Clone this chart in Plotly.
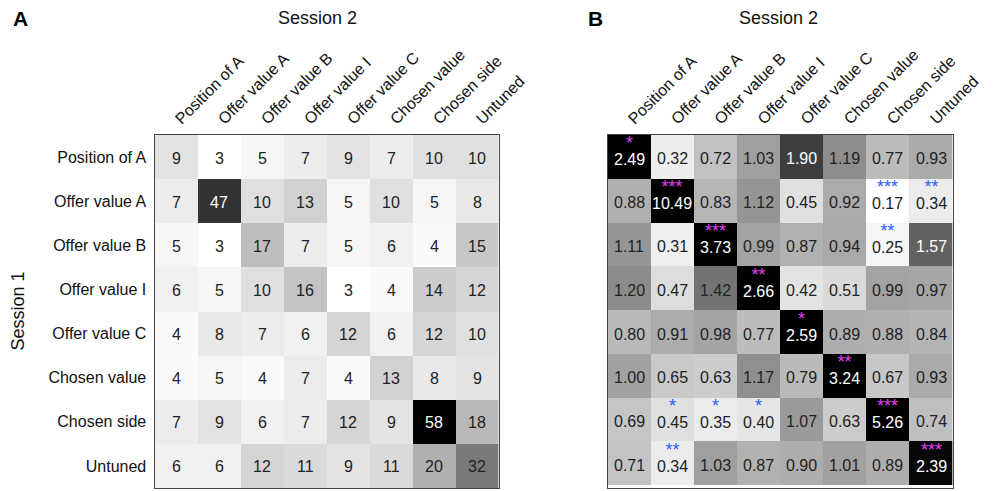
import plotly.graph_objects as go

W, H = 1001, 491


def px(x):
    return x / W


def py(y):
    return 1 - y / H


categories = ["Position of A", "Offer value A", "Offer value B", "Offer value I",
              "Offer value C", "Chosen value", "Chosen side", "Untuned"]

counts = [
    [9, 3, 5, 7, 9, 7, 10, 10],
    [7, 47, 10, 13, 5, 10, 5, 8],
    [5, 3, 17, 7, 5, 6, 4, 15],
    [6, 5, 10, 16, 3, 4, 14, 12],
    [4, 8, 7, 6, 12, 6, 12, 10],
    [4, 5, 4, 7, 4, 13, 8, 9],
    [7, 9, 6, 7, 12, 9, 58, 18],
    [6, 6, 12, 11, 9, 11, 20, 32],
]

ratios = [
    [2.49, 0.32, 0.72, 1.03, 1.90, 1.19, 0.77, 0.93],
    [0.88, 10.49, 0.83, 1.12, 0.45, 0.92, 0.17, 0.34],
    [1.11, 0.31, 3.73, 0.99, 0.87, 0.94, 0.25, 1.57],
    [1.20, 0.47, 1.42, 2.66, 0.42, 0.51, 0.99, 0.97],
    [0.80, 0.91, 0.98, 0.77, 2.59, 0.89, 0.88, 0.84],
    [1.00, 0.65, 0.63, 1.17, 0.79, 3.24, 0.67, 0.93],
    [0.69, 0.45, 0.35, 0.40, 1.07, 0.63, 5.26, 0.74],
    [0.71, 0.34, 1.03, 0.87, 0.90, 1.01, 0.89, 2.39],
]

# significance stars: (row, col, stars, kind) kind: 'over' (magenta) / 'under' (blue)
stars = [
    (0, 0, "*", "over"),
    (1, 1, "***", "over"), (1, 6, "***", "under"), (1, 7, "**", "under"),
    (2, 2, "***", "over"), (2, 6, "**", "under"),
    (3, 3, "**", "over"),
    (4, 4, "*", "over"),
    (5, 5, "**", "over"),
    (6, 1, "*", "under"), (6, 2, "*", "under"), (6, 3, "*", "under"), (6, 6, "***", "over"),
    (7, 1, "**", "under"), (7, 7, "***", "over"),
]

A_range = (3, 58)
B_range = (0.17, 2.45)

FONT = "Liberation Sans, Arial, sans-serif"
gray_scale = [[0, "#ffffff"], [1, "#000000"]]
STAR_COLORS = {"over": "#e040f0", "under": "#2a62ff"}

fig = go.Figure()
fig.add_trace(go.Heatmap(z=counts, x=categories, y=categories, colorscale=gray_scale,
                         zmin=A_range[0], zmax=A_range[1], showscale=False,
                         xaxis="x", yaxis="y", hoverinfo="z"))
fig.add_trace(go.Heatmap(z=ratios, x=categories, y=categories, colorscale=gray_scale,
                         zmin=B_range[0], zmax=B_range[1], showscale=False,
                         xaxis="x2", yaxis="y2", hoverinfo="z"))

annotations = []


def txt_color(v, rng):
    d = (v - rng[0]) / (rng[1] - rng[0])
    return "#ffffff" if d > 0.57 else "#222222"


star_map = {(i, j): (s, k) for (i, j, s, k) in stars}

for i, r in enumerate(categories):
    for j, c in enumerate(categories):
        v = counts[i][j]
        annotations.append(dict(x=c, y=r, xref="x", yref="y", text=str(v), showarrow=False,
                                yshift=-1, borderpad=0,
                                font=dict(size=16, color=txt_color(v, A_range), family=FONT)))
        v2 = ratios[i][j]
        tc = txt_color(v2, B_range)
        if (i, j) in star_map:
            s, k = star_map[(i, j)]
            text = (f"<span style='font-size:18px;color:{STAR_COLORS[k]}'>{s}</span><br>"
                    f"<span style='font-size:16px;color:{tc}'>{v2:.2f}</span>")
            annotations.append(dict(x=c, y=r, xref="x2", yref="y2", text=text, showarrow=False,
                                    yshift=6, borderpad=0, align="center",
                                    font=dict(size=12, color=tc, family=FONT)))
        else:
            annotations.append(dict(x=c, y=r, xref="x2", yref="y2", text=f"{v2:.2f}",
                                    showarrow=False, yshift=-2, borderpad=0,
                                    font=dict(size=16, color=tc, family=FONT)))


def label(x, y, text, size, color="#111", angle=0):
    return dict(x=px(x), y=py(y), xref="paper", yref="paper", text=text, showarrow=False,
                xanchor="center", yanchor="middle", textangle=angle,
                font=dict(size=size, color=color, family=FONT))


annotations += [
    label(21, 19, "<b>A</b>", 21, "#000"),
    label(613, 19, "<b>B</b>", 21, "#000"),
    label(327, 18, "Session 2", 18),
    label(801, 18, "Session 2", 18),
    label(19, 311, "Session 1", 18, angle=-90),
]

ax_common = dict(showgrid=False, zeroline=False, ticks="", showline=True, mirror=True,
                 linecolor="#444", linewidth=1.2,
                 tickfont=dict(size=16, color="#111", family=FONT))

top = py(135)
bot = py(488)
fig.update_layout(
    width=W, height=H, margin=dict(l=0, r=0, t=0, b=0),
    paper_bgcolor="white", plot_bgcolor="white",
    xaxis=dict(domain=[px(159), px(513)], side="top", tickangle=-45, anchor="y", **ax_common),
    yaxis=dict(domain=[bot, top], autorange="reversed", anchor="x", ticklabelstandoff=4, **ax_common),
    xaxis2=dict(domain=[px(625), px(980)], side="top", tickangle=-45, anchor="y2", **ax_common),
    yaxis2=dict(domain=[bot, top], autorange="reversed", anchor="x2", showticklabels=False, **ax_common),
    annotations=annotations,
    showlegend=False,
)

fig.write_html("out.html", config={"displayModeBar": False},
               post_script="document.body.style.margin='0';document.body.style.overflow='hidden';")
